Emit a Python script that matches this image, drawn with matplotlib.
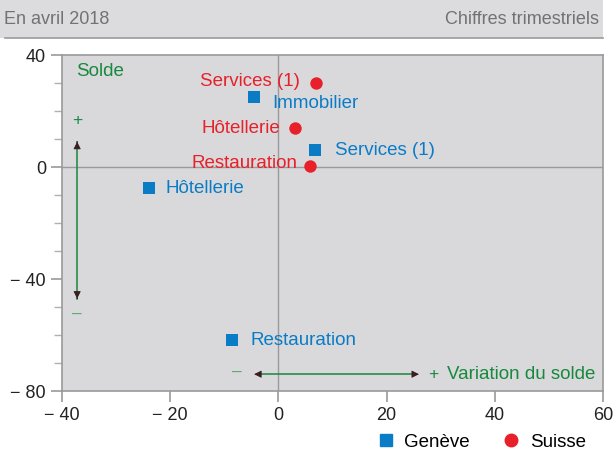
import numpy as np
import matplotlib
matplotlib.use('Agg')
import matplotlib.pyplot as plt
from matplotlib.patches import Rectangle
from matplotlib.lines import Line2D
from matplotlib.ticker import MultipleLocator, FuncFormatter

plt.rcParams['font.family'] = ['Liberation Sans', 'DejaVu Sans']

# data (variation du solde, solde)
geneve_labels = ['Immobilier', 'Services (1)', 'Hôtellerie', 'Restauration']
geneve_x = [-4.6, 6.7, -24.0, -8.6]
geneve_y = [25.0, 6.0, -7.6, -61.8]

suisse_labels = ['Services (1)', 'Hôtellerie', 'Restauration']
suisse_x = [6.9, 3.1, 5.9]
suisse_y = [30.0, 13.8, 0.5]

c_blue = '#0a7cc6'
c_red = '#e8202a'
c_green = '#17893d'
c_head = '#3a1c22'
c_bg = '#d9d9dc'
c_grey = '#9a9a9a'
fs = 13.5

fig = plt.figure(figsize=(6.14, 4.5), dpi=100)

# header band
fig.patches.append(Rectangle((0, 1 - 38/450), 603/614, 38/450, transform=fig.transFigure,
                             facecolor='#dcdcde', edgecolor='none', zorder=0))
fig.lines.append(Line2D([5/614, 603/614], [1 - 38/450, 1 - 38/450], transform=fig.transFigure,
                        color='#9a9a9a', lw=1.2))
fig.text(4/614, 1 - 19/450, 'En avril 2018', fontsize=13, color='#727272', va='center', ha='left')
fig.text(599/614, 1 - 19/450, 'Chiffres trimestriels', fontsize=13, color='#727272', va='center', ha='right')

ax = fig.add_axes([62/614, 1 - 391/450, 541/614, 336/450])
ax.set_facecolor(c_bg)
ax.set_xlim(-40, 60)
ax.set_ylim(-80, 40)
for s in ax.spines.values():
    s.set_color(c_grey)
    s.set_linewidth(1.2)
ax.axhline(0, color=c_grey, lw=1, zorder=1)
ax.axvline(0, color=c_grey, lw=1, zorder=1)

ax.xaxis.set_major_locator(MultipleLocator(20))
ax.yaxis.set_major_locator(MultipleLocator(40))
ax.yaxis.set_minor_locator(MultipleLocator(10))
fmt = FuncFormatter(lambda v, p: ('\u2212 %g' % abs(v)) if v < 0 else '%g' % v)
ax.xaxis.set_major_formatter(fmt)
ax.yaxis.set_major_formatter(fmt)
ax.tick_params(axis='both', which='major', labelsize=13, labelcolor='#222222',
               color=c_grey, length=8, width=1.2)
ax.tick_params(axis='y', which='minor', color='#b0b0b0', length=5.5, width=1)
ax.tick_params(top=False, right=False)

ax.scatter(geneve_x, geneve_y, marker='s', s=66, color=c_blue, zorder=3, linewidths=0)
ax.scatter(suisse_x, suisse_y, marker='o', s=80, color=c_red, zorder=3, linewidths=0)

g_off = [(19, -6), (20, 0), (17, 0), (19, 0)]
for lab, x, y, off in zip(geneve_labels, geneve_x, geneve_y, g_off):
    ax.annotate(lab, (x, y), xytext=off, textcoords='offset pixels', color=c_blue,
                fontsize=fs, ha='left', va='center')
s_off = [(-16, 1), (-15, 0), (-13, 2)]
for lab, x, y, off in zip(suisse_labels, suisse_x, suisse_y, s_off):
    ax.annotate(lab, (x, y), xytext=off, textcoords='offset pixels', color=c_red,
                fontsize=fs, ha='right', va='center')

# reading guides
ax.text(-37.3, 34, 'Solde', color=c_green, fontsize=fs, ha='left', va='center')
vx, vy0, vy1 = -37.2, -48, 10
ax.plot([vx, vx], [vy0 + 1, vy1 - 1], color=c_green, lw=1.1, zorder=2)
for a, b in [(vy1 - 2, vy1), (vy0 + 2, vy0)]:
    ax.annotate('', xy=(vx, b), xytext=(vx, a),
                arrowprops=dict(arrowstyle='-|>', color=c_head, lw=0.6, mutation_scale=11))
ax.text(vx, 16.5, '+', color=c_green, fontsize=12.5, ha='center', va='center')
ax.text(vx, -52.5, '\u2013', color='#5aa874', fontsize=12.5, ha='center', va='center')

hy, hx0, hx1 = -74, -5.0, 26.5
ax.plot([hx0 + 1, hx1 - 1], [hy, hy], color=c_green, lw=1.1, zorder=2)
for a, b in [(hx1 - 2, hx1), (hx0 + 2, hx0)]:
    ax.annotate('', xy=(b, hy), xytext=(a, hy),
                arrowprops=dict(arrowstyle='-|>', color=c_head, lw=0.6, mutation_scale=11))
ax.text(-7.6, hy + 0.8, '\u2013', color='#5aa874', fontsize=12.5, ha='center', va='center')
ax.text(28.6, hy, '+', color=c_green, fontsize=12.5, ha='center', va='center')
ax.text(31.2, hy, 'Variation du solde', color=c_green, fontsize=fs, ha='left', va='center')

handles = [Line2D([], [], marker='s', ls='', color=c_blue, markersize=8.5, label='Genève'),
           Line2D([], [], marker='o', ls='', color=c_red, markersize=9, label='Suisse')]
fig.legend(handles=handles, loc='center right', bbox_to_anchor=(586/614, 1 - 442/450), ncol=2,
           frameon=False, fontsize=fs, handletextpad=0.5, columnspacing=1.7, handlelength=1,
           borderaxespad=0, borderpad=0)

fig.savefig('out.png', dpi=100)
